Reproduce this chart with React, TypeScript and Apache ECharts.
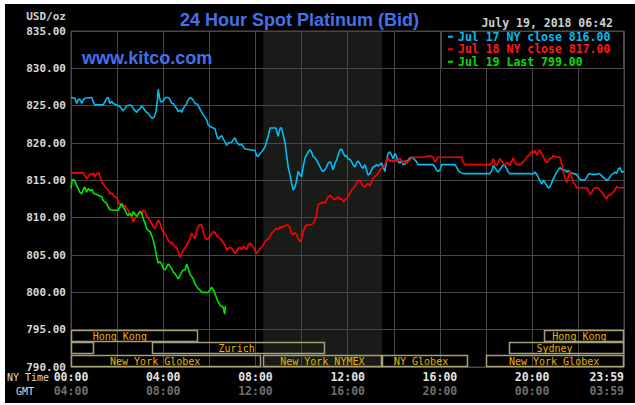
import React, { useEffect, useRef } from "react";
import * as echarts from "echarts";

// [minute of NY day, price]
const jul17: [number, number][] = [
  [0,826.1],[10,826.0],[15,825.3],[19,825.8],[23,825.9],[28,825.3],[32,825.8],[36,826.0],[54,826.1],[58,825.5],[62,825.1],[84,825.1],[88,825.5],[93,826.0],[97,826.1],[101,825.3],[106,825.6],[110,825.3],[119,825.1],[127,824.9],[136,824.3],[140,824.6],[145,825.0],[154,825.1],[158,825.0],[162,824.6],[171,824.1],[175,824.4],[180,824.6],[184,825.0],[188,824.7],[193,824.3],[197,824.1],[201,824.0],[207,823.5],[212,823.3],[217,823.5],[221,824.2],[225,825.8],[227,827.2],[230,826.2],[233,825.5],[239,825.6],[243,825.9],[247,826.1],[253,826.1],[258,825.8],[262,825.3],[266,825.3],[271,824.9],[275,824.6],[279,824.2],[284,824.4],[288,824.1],[292,824.6],[297,825.0],[301,825.3],[305,825.8],[311,826.1],[317,825.8],[323,825.3],[329,825.2],[336,824.5],[344,823.8],[353,823.1],[357,822.4],[362,822.2],[370,822.0],[375,821.9],[379,821.0],[383,820.5],[388,820.8],[392,821.0],[396,820.6],[401,820.1],[405,819.7],[409,820.0],[418,820.1],[422,820.4],[427,820.7],[431,820.1],[435,819.9],[440,819.7],[444,819.9],[448,819.5],[453,819.2],[466,819.1],[479,819.0],[483,818.3],[487,818.2],[492,818.6],[496,818.8],[500,819.1],[505,819.5],[509,820.2],[513,820.9],[518,822.0],[526,822.0],[533,822.0],[539,820.9],[544,822.0],[548,822.0],[552,821.1],[557,820.0],[561,818.4],[565,816.8],[570,815.7],[574,814.6],[578,813.7],[583,814.1],[587,815.0],[591,816.2],[596,815.7],[600,815.5],[604,816.8],[609,818.0],[613,818.4],[617,818.8],[622,819.1],[626,818.8],[630,818.2],[635,818.0],[639,817.7],[643,817.3],[648,816.8],[652,816.4],[656,816.2],[661,816.4],[665,816.8],[669,817.3],[674,817.5],[678,817.1],[682,816.4],[687,817.3],[691,817.7],[695,818.4],[700,819.1],[704,819.2],[709,818.6],[713,818.2],[717,818.3],[721,817.9],[726,817.8],[730,817.5],[734,817.1],[739,816.8],[743,817.3],[747,817.6],[752,817.2],[756,816.8],[760,816.6],[765,817.1],[769,816.4],[773,815.7],[778,815.9],[782,816.4],[786,816.8],[791,816.9],[795,817.1],[799,816.9],[804,817.1],[808,817.3],[812,816.8],[817,816.2],[821,817.5],[825,818.6],[830,818.8],[834,818.4],[838,817.9],[843,818.6],[847,818.2],[851,817.5],[856,817.3],[860,817.7],[864,817.1],[869,817.2],[873,817.5],[877,817.7],[882,818.0],[886,818.1],[890,818.0],[899,817.5],[903,817.1],[916,817.1],[942,817.1],[947,816.8],[951,816.4],[955,816.2],[960,816.4],[964,817.1],[969,817.1],[999,817.1],[1004,816.7],[1008,816.3],[1012,816.1],[1021,815.9],[1090,815.9],[1095,816.3],[1099,817.0],[1103,816.7],[1108,816.3],[1112,816.1],[1116,816.4],[1121,816.8],[1125,817.1],[1129,817.0],[1134,816.5],[1138,816.1],[1142,815.9],[1194,815.9],[1199,815.8],[1203,815.9],[1207,816.1],[1212,815.8],[1216,815.4],[1220,815.0],[1225,814.5],[1229,815.0],[1233,814.7],[1238,814.3],[1242,814.0],[1246,814.1],[1251,814.7],[1255,815.2],[1259,815.6],[1264,816.1],[1268,816.4],[1272,816.7],[1277,816.5],[1281,816.3],[1285,816.4],[1290,816.1],[1294,816.3],[1298,816.1],[1307,815.9],[1316,815.8],[1320,815.4],[1325,815.1],[1329,815.0],[1338,815.1],[1342,815.4],[1346,815.8],[1351,815.9],[1355,815.8],[1368,815.8],[1372,815.9],[1377,815.8],[1385,815.4],[1390,815.2],[1394,815.0],[1398,815.1],[1403,815.5],[1407,815.8],[1411,815.9],[1416,816.1],[1420,815.9],[1424,816.5],[1429,816.7],[1433,816.1],[1439,816.2]
];

const jul18: [number, number][] = [
  [0,816.0],[32,816.0],[41,815.2],[45,815.5],[49,815.9],[54,815.7],[58,816.0],[62,815.5],[67,815.9],[73,816.0],[77,815.2],[82,814.6],[88,814.2],[93,813.9],[97,813.7],[101,813.2],[106,813.3],[110,813.0],[114,812.8],[119,812.7],[123,812.1],[127,811.7],[132,811.9],[136,811.4],[140,811.7],[145,811.2],[149,811.0],[153,810.5],[158,810.1],[162,809.4],[166,809.9],[171,810.1],[175,810.6],[180,810.9],[184,810.5],[188,811.0],[193,810.8],[197,810.1],[201,809.9],[206,809.6],[210,809.2],[214,808.8],[219,808.5],[223,809.2],[227,809.7],[232,809.2],[236,808.5],[240,808.1],[245,807.8],[249,807.4],[253,807.0],[258,806.6],[262,806.7],[266,806.4],[271,806.1],[275,806.0],[279,805.4],[284,804.7],[288,805.2],[292,805.7],[297,806.0],[301,806.3],[305,806.7],[310,807.2],[314,807.9],[318,807.6],[323,807.2],[327,808.3],[331,808.8],[336,809.1],[340,809.0],[344,808.1],[349,807.3],[353,807.1],[357,807.2],[362,807.6],[366,807.9],[370,808.1],[375,808.0],[379,807.6],[383,807.4],[388,807.2],[392,807.0],[396,806.7],[401,806.3],[405,805.6],[409,805.9],[414,806.0],[418,805.9],[422,805.6],[427,805.2],[431,805.5],[435,805.9],[440,806.0],[444,805.7],[448,806.2],[453,805.9],[457,805.7],[461,806.3],[466,806.6],[470,806.3],[474,806.1],[483,805.2],[487,805.5],[492,805.9],[496,806.1],[500,806.3],[505,806.8],[509,807.0],[513,807.1],[518,807.5],[522,807.9],[526,808.1],[531,808.4],[535,808.6],[539,808.4],[544,808.8],[548,808.6],[552,808.8],[557,808.9],[561,809.0],[565,809.0],[570,808.6],[574,807.9],[578,807.7],[583,808.0],[587,807.7],[591,807.2],[596,806.8],[600,807.2],[604,808.1],[609,808.8],[613,809.0],[622,809.0],[630,809.2],[635,809.7],[639,810.4],[643,811.7],[648,811.9],[652,812.0],[656,812.1],[661,811.9],[665,812.4],[669,812.8],[674,813.0],[678,812.8],[682,812.6],[687,812.4],[691,812.6],[695,812.8],[700,812.4],[704,812.6],[709,812.1],[713,812.4],[717,812.6],[721,812.8],[726,813.3],[730,813.7],[734,813.9],[739,814.2],[743,814.6],[747,815.0],[752,815.0],[756,814.6],[760,814.2],[765,814.1],[769,814.4],[773,814.6],[778,814.2],[782,814.8],[786,815.3],[791,815.5],[795,815.7],[799,815.9],[804,816.4],[808,816.6],[812,816.8],[817,817.1],[821,817.7],[825,818.0],[830,817.5],[834,817.7],[838,817.5],[843,817.8],[847,817.5],[851,817.7],[856,818.0],[860,817.5],[864,817.3],[869,817.7],[873,817.3],[877,817.5],[882,817.7],[886,818.0],[890,818.1],[916,818.1],[925,818.2],[934,818.3],[942,818.1],[947,817.5],[951,817.7],[955,818.1],[960,818.1],[1017,818.1],[1021,817.4],[1025,817.1],[1090,817.1],[1095,817.4],[1099,817.9],[1103,817.2],[1108,817.0],[1112,817.4],[1116,817.9],[1121,817.6],[1125,817.3],[1129,817.0],[1134,817.4],[1138,817.2],[1142,817.0],[1147,817.6],[1151,818.0],[1155,817.4],[1160,817.1],[1168,817.1],[1173,817.3],[1177,817.5],[1181,817.7],[1186,818.1],[1190,818.3],[1194,818.5],[1199,818.9],[1203,818.6],[1207,819.0],[1212,818.4],[1216,818.9],[1220,819.1],[1225,818.5],[1229,818.2],[1233,817.7],[1238,817.4],[1242,817.6],[1246,817.9],[1251,818.0],[1255,818.3],[1259,818.2],[1264,818.1],[1272,818.1],[1277,817.2],[1281,816.1],[1285,815.4],[1290,814.7],[1294,815.4],[1298,816.3],[1303,815.4],[1307,814.7],[1311,814.5],[1316,814.0],[1342,814.0],[1346,813.7],[1351,813.1],[1355,813.4],[1359,813.8],[1364,814.0],[1372,814.0],[1377,813.6],[1385,813.2],[1390,812.7],[1394,812.5],[1398,813.0],[1403,813.0],[1407,813.2],[1411,813.4],[1416,813.8],[1420,814.2],[1424,814.0],[1439,814.0]
];

const jul19: [number, number][] = [
  [0,813.9],[3,815.0],[7,815.1],[10,814.9],[15,814.3],[19,813.9],[23,813.4],[28,813.2],[32,813.8],[36,814.1],[41,813.4],[45,813.9],[49,813.6],[54,813.8],[58,813.3],[62,813.2],[67,813.1],[71,813.0],[75,812.9],[80,812.8],[84,812.3],[88,812.1],[93,811.9],[97,811.4],[101,811.1],[110,811.0],[123,811.0],[127,811.4],[132,811.9],[136,811.4],[140,811.1],[145,810.5],[149,810.3],[153,810.6],[158,810.2],[162,810.8],[166,810.5],[171,810.2],[175,810.5],[180,810.8],[184,810.6],[188,809.9],[193,809.2],[197,808.5],[201,808.3],[206,808.1],[210,807.6],[214,807.0],[219,805.9],[223,804.7],[227,803.9],[232,804.1],[236,803.8],[240,803.2],[245,803.0],[249,803.4],[253,803.8],[258,803.5],[262,803.2],[266,802.7],[271,802.5],[275,802.1],[279,801.8],[284,802.3],[288,802.7],[292,803.0],[297,803.0],[301,803.8],[305,803.2],[310,802.4],[314,802.1],[318,801.8],[323,801.1],[327,800.8],[331,800.5],[336,800.3],[340,800.0],[349,800.0],[357,800.0],[362,800.3],[366,800.7],[370,800.4],[375,799.8],[379,799.2],[383,798.7],[388,798.3],[392,798.1],[396,798.0],[400,797.1],[402,798.2]
];

const seriesNames = ["Jul 17 NY close 816.00", "Jul 18 NY close 817.00", "Jul 19 Last 799.00"];
const seriesColors = ["#00bdf2", "#ff0000", "#00e600"];
const legendColors = ["#00bdf2", "#ff1a1a", "#00e000"];

const yMin = 790;
const yMax = 835;
const yStep = 5;
const xLabelMinutes = [0, 240, 480, 720, 960, 1200, 1439];
const nymexShade: [number, number][] = [[500, 810]];

// [start minute, end minute, row, label centre minute]
const sessionSpans: [number, number, number, number][] = [
  [0, 330, 0, 127],
  [1230, 1439, 0, 1323],
  [0, 60, 1, -1],
  [210, 660, 1, 431],
  [1140, 1439, 1, 1258],
  [0, 495, 2, 219],
  [500, 810, 2, 654],
  [810, 1035, 2, 911],
  [1080, 1439, 2, 1257],
];
const sessionNames = ["Hong Kong", "Hong Kong", "", "Zurich", "Sydney", "New York Globex", "New York NYMEX", "NY Globex", "New York Globex"];

const MONO = '"DejaVu Sans Mono", monospace';
const SANS = '"Liberation Sans", Arial, sans-serif';

const pad = (n: number) => (n < 10 ? "0" + n : "" + n);
const fmtTime = (m: number, off: number) => {
  const h = (Math.floor(m / 60) + off) % 24;
  return pad(h) + ":" + pad(Math.round(m % 60));
};

export default function App() {
  const ref = useRef<HTMLDivElement>(null);
  useEffect(() => {
    if (!ref.current) return;
    const chart = echarts.init(ref.current, null, { renderer: "svg" });
    const rowH = yStep / 3;
    const option: any = {
      animation: false,
      backgroundColor: "transparent",
      grid: {
        left: 71, top: 31, right: 11, bottom: 38,
        show: true, borderColor: "#4a4a4a", borderWidth: 1, backgroundColor: "transparent",
        containLabel: false, outerBoundsMode: "none",
      },
      xAxis: {
        type: "value", min: 0, max: 1439, interval: 120,
        axisLine: { show: false }, axisTick: { show: false },
        splitLine: { show: true, lineStyle: { color: "#474747", width: 1 } },
        axisLabel: {
          customValues: xLabelMinutes,
          margin: 3,
          alignMaxLabel: "right",
          showMaxLabel: true,
          formatter: (v: number) => `{a|${fmtTime(v, 0)}}\n{b|${fmtTime(v, 4)}}`,
          rich: {
            a: { color: "#e2e2e2", fontFamily: MONO, fontWeight: "bold", fontSize: 11.5, lineHeight: 14 },
            b: { color: "#6e6e6e", fontFamily: MONO, fontWeight: "bold", fontSize: 11.5, lineHeight: 14 },
          },
        },
      },
      yAxis: {
        type: "value", min: yMin, max: yMax, interval: yStep,
        axisLine: { show: false }, axisTick: { show: false },
        splitLine: { show: true, lineStyle: { color: "#474747", width: 1 } },
        axisLabel: {
          color: "#d8d8d8", fontFamily: MONO, fontWeight: "bold", fontSize: 11, margin: 5,
          formatter: (v: number) => v.toFixed(2),
        },
      },
      legend: {
        orient: "vertical", left: 448, top: 30.5, padding: 0, itemGap: 0,
        itemWidth: 5, itemHeight: 2, icon: "rect", selectedMode: false,
        textStyle: { fontFamily: MONO, fontWeight: "bold", fontSize: 11.5, lineHeight: 12.5 },
        data: seriesNames.map((n, i) => ({ name: n, textStyle: { color: legendColors[i] } })),
        z: 6,
      },
      graphic: [
        { type: "rect", z: 1, shape: { x: 441.5, y: 31.5, width: 182, height: 37 }, style: { fill: "#000", stroke: "#4a4a4a", lineWidth: 1 } },
        { type: "text", z: 6, x: 299.5, y: 19.5, style: { text: "24 Hour Spot Platinum (Bid)", fill: "#4470ee", font: `bold 18px ${SANS}`, align: "center", verticalAlign: "middle" } },
        { type: "text", z: 6, x: 82, y: 58, style: { text: "www.kitco.com", fill: "#4470ee", font: `bold 18px ${SANS}`, align: "left", verticalAlign: "middle" } },
        { type: "text", z: 6, x: 613, y: 23, style: { text: "July 19, 2018 06:42", fill: "#cfcfcf", font: `bold 11.5px ${MONO}`, align: "right", verticalAlign: "middle" } },
        { type: "text", z: 6, x: 66, y: 16, style: { text: "USD/oz", fill: "#cfcfcf", font: `bold 11px ${MONO}`, align: "right", verticalAlign: "middle" } },
        { type: "text", z: 6, x: 7, y: 377, style: { text: "NY Time", fill: "#dddddd", font: `10px ${MONO}`, align: "left", verticalAlign: "middle" } },
        { type: "text", z: 6, x: 16, y: 391, style: { text: "GMT", fill: "#dddddd", font: `10px ${MONO}`, align: "left", verticalAlign: "middle" } },
      ],
      series: [
        {
          name: "shade", type: "custom", z: -1, silent: true,
          data: nymexShade,
          encode: { x: [0, 1] },
          renderItem: (params: any, api: any) => {
            const p1 = api.coord([api.value(0), yMax]);
            const p2 = api.coord([api.value(1), yMin]);
            return { type: "rect", shape: { x: p1[0], y: p1[1], width: p2[0] - p1[0], height: p2[1] - p1[1] }, style: { fill: "#181b18" } };
          },
        },
        ...[jul17, jul18, jul19].map((d, i) => ({
          name: seriesNames[i], type: "line", data: d, showSymbol: false, symbol: "none",
          color: seriesColors[i], lineStyle: { color: seriesColors[i], width: 1.6 }, z: 3,
        })),
        {
          name: "sessions", type: "custom", z: 4, silent: true,
          data: sessionSpans,
          encode: { x: [0, 1] },
          renderItem: (params: any, api: any) => {
            const s = api.value(0), e = api.value(1), row = api.value(2), lc = api.value(3);
            const top = yMin + yStep - row * rowH;
            const bot = top - rowH;
            const p1 = api.coord([s, top]);
            const p2 = api.coord([e, bot]);
            const children: any[] = [
              { type: "rect", shape: { x: Math.round(p1[0]) + 0.5, y: Math.round(p1[1]) + 0.5, width: Math.round(p2[0] - p1[0]) - 1, height: Math.round(p2[1] - p1[1]) - 1 }, style: { fill: "none", stroke: "#a69f74", lineWidth: 1.5 } },
            ];
            const name = sessionNames[params.dataIndex];
            if (name && lc >= 0) {
              const c = api.coord([lc, (top + bot) / 2]);
              children.push({ type: "text", x: c[0], y: c[1] + 0.5, style: { text: name, fill: "#e8b400", font: `10px ${MONO}`, align: "center", verticalAlign: "middle" } });
            }
            return { type: "group", children };
          },
        },
      ],
    };
    chart.setOption(option);
    return () => chart.dispose();
  }, []);
  return (
    <div style={{ position: "absolute", left: 0, top: 0, width: 635, height: 405, background: "#fff" }}>
      <div style={{ position: "absolute", left: 5, top: 4, width: 630, height: 399, background: "#000" }} />
      <div ref={ref} style={{ position: "absolute", left: 0, top: 0, width: 635, height: 405 }} />
    </div>
  );
}
